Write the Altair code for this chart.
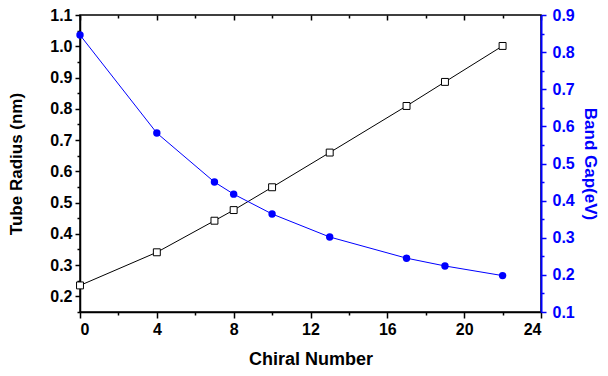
import altair as alt
import pandas as pd

chiral = [0, 4, 7, 8, 10, 13, 17, 19, 22]
radius = [0.235, 0.341, 0.442, 0.476, 0.549, 0.660, 0.809, 0.886, 1.001]
gap = [0.846, 0.582, 0.450, 0.4175, 0.364, 0.302, 0.245, 0.224, 0.198]

x_major = [0, 4, 8, 12, 16, 20, 24]
x_minor = [2, 6, 10, 14, 18, 22]
yl_major = [0.2, 0.3, 0.4, 0.5, 0.6, 0.7, 0.8, 0.9, 1.0, 1.1]
yl_minor = [0.15, 0.25, 0.35, 0.45, 0.55, 0.65, 0.75, 0.85, 0.95, 1.05]
yr_major = [0.1, 0.2, 0.3, 0.4, 0.5, 0.6, 0.7, 0.8, 0.9]
yr_minor = [0.15, 0.25, 0.35, 0.45, 0.55, 0.65, 0.75, 0.85]

df = pd.DataFrame({"chiral": chiral, "radius": radius, "gap": gap})

FONT = "Liberation Sans"
BLUE = "#0000FF"
xs = alt.Scale(domain=[0, 24], nice=False, zero=False)
yls = alt.Scale(domain=[0.15, 1.1], nice=False, zero=False)
yrs = alt.Scale(domain=[0.1, 0.9], nice=False, zero=False)

base = alt.Chart(df)

black = base.mark_line(
    color="black", strokeWidth=1,
    point=alt.OverlayMarkDef(shape="square", filled=True, fill="white",
                             stroke="black", strokeWidth=1, size=48, opacity=1),
).encode(
    x=alt.X("chiral:Q", scale=xs, axis=alt.Axis(
        orient="bottom", values=x_major, tickSize=6, labelPadding=3,
        title="Chiral Number", titleFontSize=18, titlePadding=13,
        domainColor="black", domainWidth=1.5, tickColor="black", tickWidth=1.5,
        labelColor="black", format="d")),
    y=alt.Y("radius:Q", scale=yls, axis=alt.Axis(
        orient="left", values=yl_major, tickSize=5, labelPadding=3,
        title="Tube Radius (nm)", titleFontSize=17, titlePadding=24,
        domainColor="black", domainWidth=1.5, tickColor="black", tickWidth=1.5,
        labelColor="black", titleColor="black", format=".1f")),
)

blue = base.mark_line(
    color=BLUE, strokeWidth=1,
    point=alt.OverlayMarkDef(shape="circle", filled=True, color=BLUE, size=55, opacity=1),
).encode(
    x=alt.X("chiral:Q", scale=xs, axis=alt.Axis(
        orient="top", values=x_major, tickSize=5, offset=-5, labels=False,
        domain=False, title=None, tickColor="black", tickWidth=1.5)),
    y=alt.Y("gap:Q", scale=yrs, axis=alt.Axis(
        orient="right", values=yr_major, tickSize=5, labelPadding=6,
        title="Band Gap(eV)", titleFontSize=17, titlePadding=6,
        domainColor=BLUE, domainWidth=2, tickColor=BLUE, tickWidth=1.5,
        labelColor=BLUE, titleColor=BLUE, format=".1f")),
)

minor_left = base.mark_point(opacity=0).encode(
    x=alt.X("chiral:Q", scale=xs, axis=alt.Axis(
        orient="bottom", values=x_minor, tickSize=3, labels=False,
        domain=False, title=None, tickColor="black", tickWidth=1.5)),
    y=alt.Y("radius:Q", scale=yls, axis=alt.Axis(
        orient="left", values=yl_minor, tickSize=3, labels=False,
        domain=False, title=None, tickColor="black", tickWidth=1.5)),
)

minor_right = base.mark_point(opacity=0).encode(
    x=alt.X("chiral:Q", scale=xs, axis=alt.Axis(
        orient="top", values=x_minor, tickSize=3, offset=-3, labels=False,
        domain=False, title=None, tickColor="black", tickWidth=1.5)),
    y=alt.Y("gap:Q", scale=yrs, axis=alt.Axis(
        orient="right", values=yr_minor, tickSize=3, labels=False,
        domain=False, title=None, tickColor=BLUE, tickWidth=1.5)),
)

chart = alt.layer(black, blue, minor_left, minor_right).resolve_scale(
    x="independent", y="independent"
).properties(
    width=461, height=297,
    autosize=alt.AutoSizeParams(type="none"),
    padding={"left": 72, "top": 7, "right": 59, "bottom": 56},
).configure_view(
    stroke="black", strokeWidth=1.5
).configure_axis(
    labelFont=FONT, titleFont=FONT, labelFontSize=16, labelFontWeight="bold",
    titleFontWeight="bold", grid=False,
)

chart.save("out.html", embed_options={"renderer": "svg", "actions": False})
